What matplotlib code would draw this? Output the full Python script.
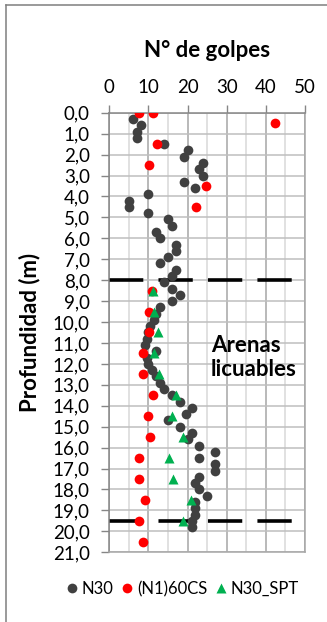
import matplotlib
matplotlib.use("Agg")
import matplotlib.pyplot as plt
from matplotlib.lines import Line2D

plt.rcParams['font.family'] = ['Lato', 'DejaVu Sans']

# N30 (profundidad m, golpes)
n30_depth = [0.3, 0.6, 0.9, 1.2, 1.5, 1.8, 2.1, 2.4, 2.7, 3.0,
             3.3, 3.6, 3.9, 4.2, 4.5, 4.8, 5.1, 5.4, 5.7, 6.0,
             6.3, 6.6, 6.9, 7.2, 7.5, 7.8, 8.1, 8.4, 8.7, 9.0,
             9.3, 9.6, 9.9, 10.2, 10.5, 10.8, 11.1, 11.4, 11.7, 12.0,
             12.3, 12.6, 12.9, 13.2, 13.5, 13.8, 14.1, 14.4, 14.7, 15.0,
             15.3, 15.6, 15.9, 16.2, 16.5, 16.8, 17.1, 17.4, 17.7, 18.0,
             18.3, 18.6, 18.9, 19.2, 19.5, 19.8]
n30 = [6, 8, 7, 7, 14, 20, 19, 24, 23, 24,
       19, 22, 10, 5, 5, 10, 15, 16, 12, 13,
       17, 17, 15, 13, 17, 16, 14, 16, 18, 16,
       13, 12, 11.5, 10.5, 10, 9.5, 9, 12, 9.5, 10,
       11, 12, 13, 14, 16, 18, 21, 19.5, 15, 18,
       21, 20, 23, 27, 23, 27, 27, 23, 22, 23,
       25, 22, 22, 22, 21, 21]

# (N1)60CS
n160_depth = [0.0, 0.0, 0.5, 1.5, 2.5, 3.5, 4.5, 8.5, 9.5, 10.5,
              11.5, 12.5, 13.5, 14.5, 15.5, 16.5, 17.5, 18.5, 19.5, 20.5]
n160 = [7.7, 11.1, 42.4, 12.2, 10.2, 24.7, 22.1, 10.8, 10.2, 10.2,
        8.5, 8.5, 11.1, 10.0, 10.4, 7.7, 7.7, 9.1, 7.7, 8.7]

# N30_SPT
spt_depth = [8.5, 9.5, 10.5, 11.5, 12.5, 13.5, 14.5, 15.5, 16.5, 17.5, 18.5, 19.5]
spt = [11.2, 11.5, 12.5, 11.4, 12.8, 17.0, 15.9, 18.7, 15.3, 16.2, 20.8, 18.9]

# limites de arenas licuables
limit_depth = [8.0, 19.5]
limit_x = [0, 50]

x_ticks = [0, 10, 20, 30, 40, 50]
x_minor = [5, 15, 25, 35, 45]
y_ticks = [0, 1, 2, 3, 4, 5, 6, 7, 8, 9, 10, 11, 12, 13, 14, 15, 16, 17, 18, 19, 20, 21]
y_labels = ["0,0", "1,0", "2,0", "3,0", "4,0", "5,0", "6,0", "7,0", "8,0", "9,0", "10,0",
            "11,0", "12,0", "13,0", "14,0", "15,0", "16,0", "17,0", "18,0", "19,0", "20,0", "21,0"]

dark = '#404040'
red = '#ff0000'
green = '#00b050'

fig = plt.figure(figsize=(3.27, 6.22), dpi=100)
ax = fig.add_axes([0.3343, 0.1121, 0.5985, 0.7067])

for d in limit_depth:
    ax.plot(limit_x, [d, d], color='black', lw=2.6, linestyle=(0, (9.5, 4.2)),
            solid_capstyle='butt', dash_capstyle='butt', zorder=2)

ax.plot(n30, n30_depth, 'o', color=dark, ms=7, mec='none', label='N30', zorder=3)
ax.plot(n160, n160_depth, 'o', color=red, ms=7, mec='none', label='(N1)60CS', zorder=4)
ax.plot(spt, spt_depth, '^', color=green, ms=7.5, mec='none', label='N30_SPT', zorder=5)

ax.set_xlim(0, 50)
ax.set_ylim(21, 0)
ax.xaxis.tick_top()
ax.set_xticks(x_ticks)
ax.set_xticks(x_minor, minor=True)
ax.set_yticks(y_ticks)
ax.set_yticklabels(y_labels)
ax.tick_params(axis='x', which='major', length=6, width=1, color='#868686', pad=6, labelsize=13.5)
ax.tick_params(axis='x', which='minor', length=0)
ax.tick_params(axis='y', length=6, width=1, color='#868686', pad=8, labelsize=13.5)

# grilla
ax.set_axisbelow(True)
ax.grid(which='major', axis='x', color='#a6a6a6', lw=1.1)
ax.grid(which='minor', axis='x', color='#d9d9d9', lw=1.1)
ax.grid(which='major', axis='y', color='#bfbfbf', lw=1.1)
for s in ax.spines.values():
    s.set_color('#a6a6a6')
    s.set_linewidth(1.1)
ax.spines['left'].set_color('#868686')
ax.spines['top'].set_color('#868686')

ax.text(26.0, 11.7, "Arenas\nlicuables", ha='left', va='center', fontsize=16,
        weight='bold', linespacing=1.18, zorder=6)

fig.text(0.633, 1 - 57 / 622, "N° de golpes", ha='center', va='baseline',
         fontsize=16, weight='bold')
fig.text(30 / 327, 1 - 332 / 622, "Profundidad (m)", rotation=90, ha='center',
         va='center', fontsize=16, weight='bold')

fig.legend(loc='center', bbox_to_anchor=(0.56, 0.053), ncol=3, frameon=False,
           fontsize=12, handlelength=0.55, handletextpad=0.3, columnspacing=0.55,
           borderpad=0.2)

# borde del grafico
fig.add_artist(Line2D([6 / 327, 6 / 327], [0, 1 - 5 / 622], transform=fig.transFigure,
                      color='#7f7f7f', lw=1.1))
fig.add_artist(Line2D([6 / 327, 1], [1 - 5 / 622, 1 - 5 / 622], transform=fig.transFigure,
                      color='#7f7f7f', lw=1.1))

fig.savefig("out.png", dpi=100)
